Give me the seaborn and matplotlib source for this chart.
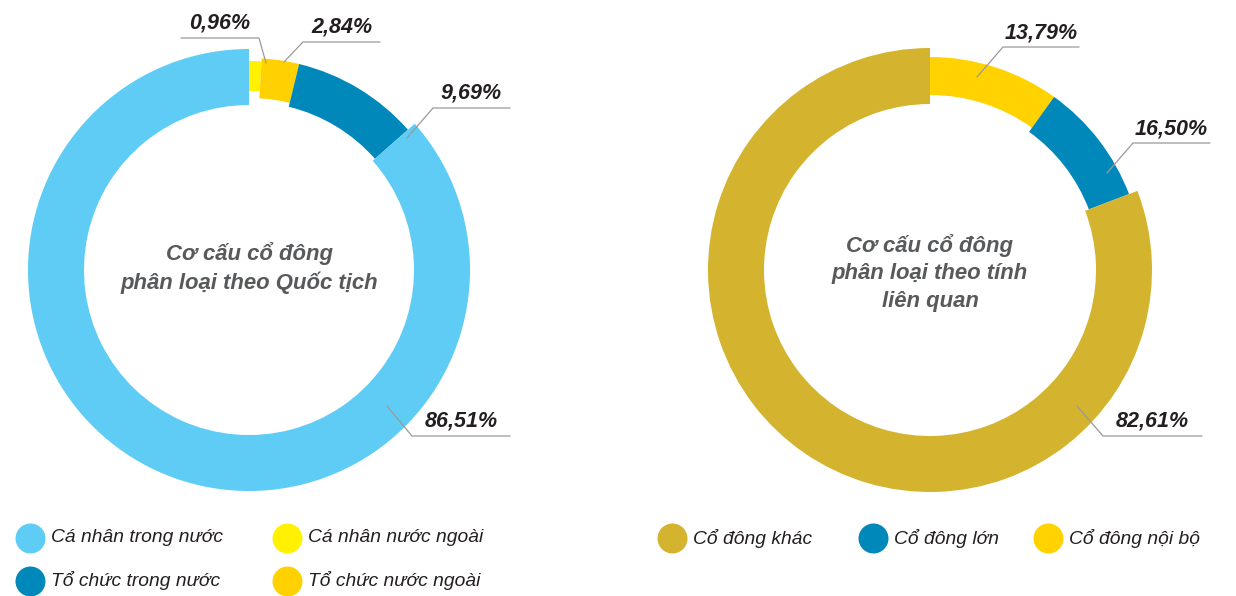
import matplotlib.pyplot as plt
import seaborn as sns

# ======================
# 数据
# ======================
left_labels = ["Cá nhân nước ngoài", "Tổ chức nước ngoài", "Tổ chức trong nước", "Cá nhân trong nước"]
left_values = [0.96, 2.84, 9.69, 86.51]
left_texts = ["0,96%", "2,84%", "9,69%", "86,51%"]
left_colors = ["#FFF100", "#FFD100", "#0088BB", "#5FCCF5"]

right_labels = ["Cổ đông nội bộ", "Cổ đông lớn", "Cổ đông khác"]
right_values = [13.79, 16.50, 82.61]
# phần chiếm trên hình
right_shares = [9.9, 9.3, 80.8]
right_texts = ["13,79%", "16,50%", "82,61%"]
right_colors = ["#FFD200", "#0088BB", "#D4B32E"]

left_title = "Cơ cấu cổ đông\nphân loại theo Quốc tịch"
right_title = "Cơ cấu cổ đông\nphân loại theo tính\nliên quan"

# ======================
# 样式
# ======================
sns.set_theme(style="white")
plt.rcParams['font.family'] = ['Liberation Sans', 'DejaVu Sans']

W, H = 1236, 596
fig = plt.figure(figsize=(W / 100, H / 100), dpi=100)
ax = fig.add_axes([0, 0, 1, 1])
ax.set_xlim(0, W)
ax.set_ylim(0, H)
ax.set_aspect('equal')
ax.axis('off')

# (outer, inner) radius of each wedge
left_rings = [(209, 179), (212, 172), (212, 168), (221, 165)]
right_rings = [(213, 175), (213, 170), (222, 166)]


def donut(values, colors, rings, cx, cy):
    wedges, _ = ax.pie(values, colors=colors, startangle=90, counterclock=False,
                       center=(cx, cy), radius=220, frame=True,
                       wedgeprops=dict(linewidth=0))
    for w, (ro, ri) in zip(wedges, rings):
        w.set_radius(ro)
        w.set_width(ro - ri)


donut(left_values, left_colors, left_rings, 249, H - 270)
donut(right_shares, right_colors, right_rings, 930, H - 270)

# leader lines: start, elbow, end of underline (pixel coords, y from top)
left_leaders = [((266, 63), (259, 38), (181, 38)),
                ((284, 62), (303, 42), (380, 42)),
                ((407, 138), (433, 108), (510, 108)),
                ((387, 406), (412, 436), (510, 436))]
right_leaders = [((977, 77), (1003, 47), (1079, 47)),
                 ((1107, 173), (1133, 143), (1210, 143)),
                 ((1077, 406), (1103, 436), (1202, 436))]

for texts, leaders in [(left_texts, left_leaders), (right_texts, right_leaders)]:
    for t, (p0, p1, p2) in zip(texts, leaders):
        ax.plot([p0[0], p1[0], p2[0]], [H - p0[1], H - p1[1], H - p2[1]],
                color="#9A9A9A", lw=0.9, solid_joinstyle='miter')
        ax.text((p1[0] + p2[0]) / 2, H - p1[1] + 4, t, ha='center', va='bottom',
                fontsize=15.5, fontweight='bold', fontstyle='italic', color="#231F20")

# center titles
ax.text(249, H - 268, left_title, ha='center', va='center', fontsize=15.9,
        fontweight='bold', fontstyle='italic', color="#58595B", linespacing=1.38)
ax.text(930, H - 273, right_title, ha='center', va='center', fontsize=15.9,
        fontweight='bold', fontstyle='italic', color="#58595B", linespacing=1.4)

# ======================
# 图例
# ======================
left_legend = [("Cá nhân trong nước", "#5FCCF5", 30, 538),
               ("Cá nhân nước ngoài", "#FFF100", 287, 538),
               ("Tổ chức trong nước", "#0088BB", 30, 581),
               ("Tổ chức nước ngoài", "#FFD100", 287, 581)]
right_legend = [("Cổ đông khác", "#D4B32E", 672, 538),
                ("Cổ đông lớn", "#0088BB", 873, 538),
                ("Cổ đông nội bộ", "#FFD200", 1048, 538)]

for name, c, x, y in left_legend + right_legend:
    ax.scatter([x], [H - y], s=21.6 ** 2, color=c, linewidths=0, clip_on=False)
    ax.text(x + 21, H - y, name, ha='left', va='center', fontsize=13.9,
            fontstyle='italic', color="#231F20")

plt.savefig("out.png", dpi=100)
